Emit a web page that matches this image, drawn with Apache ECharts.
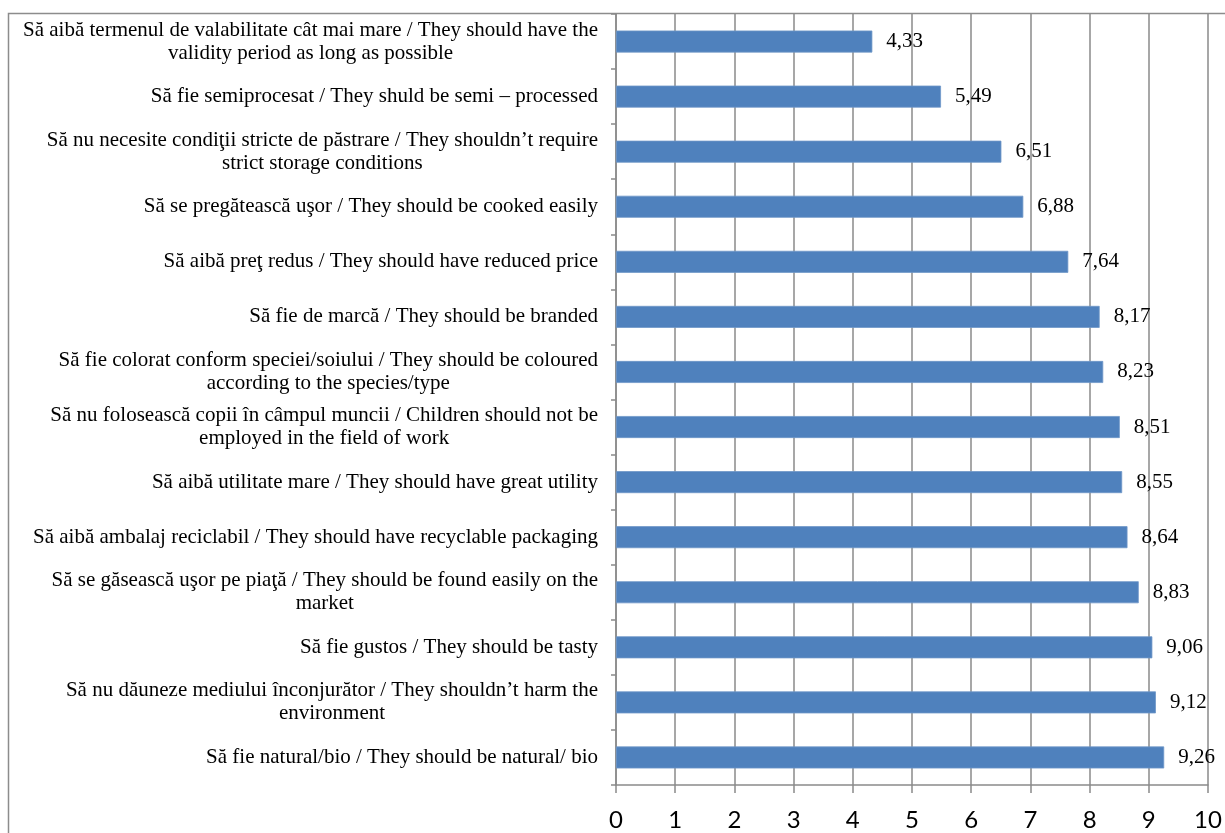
<!DOCTYPE html>
<html>
<head>
<meta charset="utf-8">
<script src="https://cdn.jsdelivr.net/npm/echarts@6/dist/echarts.min.js"></script>
<style>html,body{margin:0;padding:0;background:#fff;}#c{width:1225px;height:833px;}</style>
</head>
<body>
<div id="c"></div>
<script>
const categories = [
  "Să aibă termenul de valabilitate cât mai mare / They should have the\nvalidity period as long as possible",
  "Să fie semiprocesat / They shuld be semi – processed",
  "Să nu necesite condiţii stricte de păstrare / They shouldn’t require\nstrict storage conditions",
  "Să se pregătească uşor / They should be cooked easily",
  "Să aibă preţ redus / They should have reduced price",
  "Să fie de marcă / They should be branded",
  "Să fie colorat conform speciei/soiului / They should be coloured\naccording to the species/type",
  "Să nu folosească copii în câmpul muncii / Children should not be\nemployed in the field of work",
  "Să aibă utilitate mare / They should have great utility",
  "Să aibă ambalaj reciclabil / They should have recyclable packaging",
  "Să se găsească uşor pe piaţă / They should be found easily on the\nmarket",
  "Să fie gustos / They should be tasty",
  "Să nu dăuneze mediului înconjurător / They shouldn’t harm the\nenvironment",
  "Să fie natural/bio / They should be natural/ bio"
];
const values = [4.33, 5.49, 6.51, 6.88, 7.64, 8.17, 8.23, 8.51, 8.55, 8.64, 8.83, 9.06, 9.12, 9.26];
const xTicks = [0, 1, 2, 3, 4, 5, 6, 7, 8, 9, 10];

const chart = echarts.init(document.getElementById('c'), null, {renderer: 'canvas'});
const gridColor = '#8a8a8a';
chart.setOption({
  animation: false,
  backgroundColor: '#ffffff',
  graphic: [{
    type: 'rect', z: -10, silent: true,
    shape: {x: 8.5, y: 13.5, width: 1400, height: 1000},
    style: {fill: 'none', stroke: '#8c8c8c', lineWidth: 1.5}
  }],
  grid: {left: 616, right: 17, top: 14, bottom: 48, containLabel: false},
  xAxis: {
    type: 'value', min: xTicks[0], max: xTicks[xTicks.length - 1], interval: 1,
    axisLine: {show: true, lineStyle: {color: gridColor, width: 1.5}},
    axisTick: {show: true, length: 8, lineStyle: {color: gridColor, width: 1.5}},
    splitLine: {show: true, lineStyle: {color: gridColor, width: 1.5}},
    axisLabel: {margin: 23, fontFamily: 'Lato', fontSize: 24, color: '#000'}
  },
  yAxis: {
    type: 'category', inverse: true, data: categories,
    axisLine: {show: true, lineStyle: {color: gridColor, width: 1.5}},
    axisTick: {show: true, length: 5, lineStyle: {color: gridColor, width: 1.5}},
    splitLine: {show: false},
    axisLabel: {
      interval: 0, margin: 18, align: 'right', color: '#000',
      fontFamily: 'Liberation Serif', fontSize: 21, lineHeight: 23,
      formatter: function (v) {
        return v.split('\n').map(function (l) { return '{c|' + l + '}'; }).join('\n');
      },
      rich: {c: {align: 'center', fontFamily: 'Liberation Serif', fontSize: 21, lineHeight: 23, color: '#000'}}
    }
  },
  series: [{
    type: 'bar', data: values, barWidth: 22,
    itemStyle: {color: '#4f81bd', borderColor: '#6f97c8', borderWidth: 0.8},
    label: {
      show: true, position: 'right', distance: 14, color: '#000',
      fontFamily: 'Liberation Serif', fontSize: 21,
      formatter: function (p) { return p.value.toFixed(2).replace('.', ','); }
    }
  }]
});
</script>
</body>
</html>
